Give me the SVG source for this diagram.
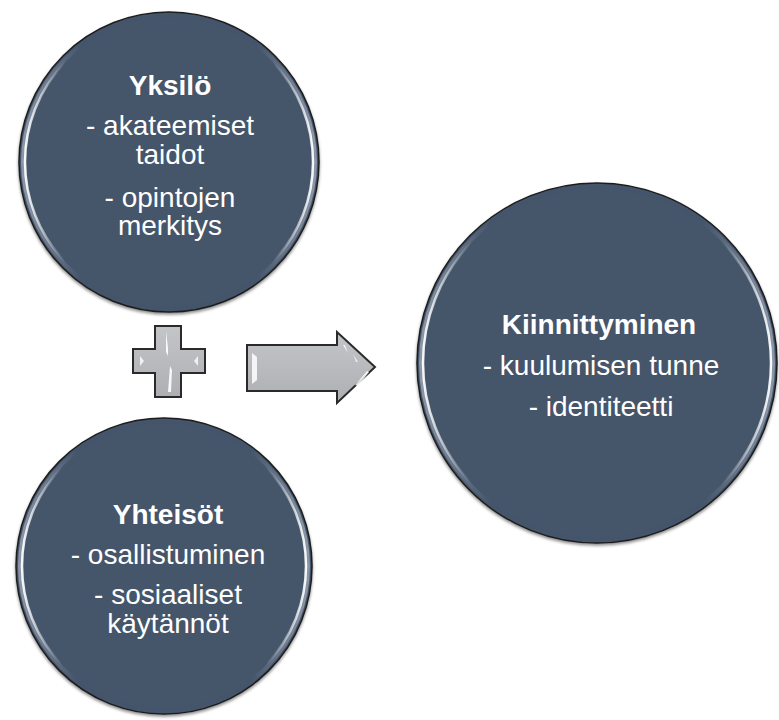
<svg xmlns="http://www.w3.org/2000/svg" width="779" height="720" viewBox="0 0 779 720">
<defs>
<linearGradient id="gleam" x1="0" y1="0" x2="1" y2="0">
<stop offset="0" stop-color="#ffffff" stop-opacity="0.95"/>
<stop offset="0.14" stop-color="#ffffff" stop-opacity="0"/>
<stop offset="0.86" stop-color="#ffffff" stop-opacity="0"/>
<stop offset="1" stop-color="#ffffff" stop-opacity="0.95"/>
</linearGradient>
<linearGradient id="rim" x1="0" y1="0" x2="1" y2="0">
<stop offset="0" stop-color="#8a96a8"/>
<stop offset="0.2" stop-color="#44546A"/>
<stop offset="0.8" stop-color="#44546A"/>
<stop offset="1" stop-color="#8a96a8"/>
</linearGradient>
<linearGradient id="grey" x1="0" y1="0" x2="0" y2="1">
<stop offset="0" stop-color="#c4c5c9"/>
<stop offset="1" stop-color="#aeafb3"/>
</linearGradient>
<filter id="sh" x="-10%" y="-10%" width="120%" height="125%">
<feDropShadow dx="0" dy="2" stdDeviation="1.5" flood-color="#000" flood-opacity="0.45"/>
</filter>
</defs>
<style>
.disc{fill:#44546A;stroke:#1e1e1e;stroke-width:1.5}
.rim{fill:none;stroke:url(#rim);stroke-width:4}
.glm{fill:none;stroke:url(#gleam);stroke-width:2.5}
.t{font-family:"Liberation Sans",Arial,sans-serif;font-size:28px;fill:#ffffff;text-anchor:middle}
.b{font-weight:bold}
.sym{fill:url(#grey);stroke:#2a2a2a;stroke-width:2;stroke-linejoin:miter}
</style>
<g id="yksilo">
<circle class="disc" cx="169" cy="162" r="150" filter="url(#sh)"/>
<circle class="rim" cx="169" cy="162" r="146"/>
<circle class="glm" cx="169" cy="162" r="144"/>
<text class="t b" x="170" y="95">Yksilö</text>
<text class="t" x="170" y="135">- akateemiset</text>
<text class="t" x="170" y="164">taidot</text>
<text class="t" x="170" y="207">- opintojen</text>
<text class="t" x="170" y="235">merkitys</text>
</g>
<g id="yhteisot">
<circle class="disc" cx="164" cy="566" r="148" filter="url(#sh)"/>
<circle class="rim" cx="164" cy="566" r="144"/>
<circle class="glm" cx="164" cy="566" r="142"/>
<text class="t b" x="168" y="524">Yhteisöt</text>
<text class="t" x="168" y="564">- osallistuminen</text>
<text class="t" x="168" y="604">- sosiaaliset</text>
<text class="t" x="168" y="633">käytännöt</text>
</g>
<g id="kiinnittyminen">
<circle class="disc" cx="597" cy="363" r="180" filter="url(#sh)"/>
<circle class="rim" cx="597" cy="363" r="176"/>
<circle class="glm" cx="597" cy="363" r="174"/>
<text class="t b" x="599" y="334">Kiinnittyminen</text>
<text class="t" x="601" y="375">- kuulumisen tunne</text>
<text class="t" x="601" y="416">- identiteetti</text>
</g>
<g id="connectors">
<g id="plus">
<path class="sym" d="M155,326 H181 V349 H205 V373 H181 V397 H155 V373 H133 V349 H155 Z"/>
<path d="M166,331 L168,348 L168,356 L166,352 Z M170,366 L168,392 L171,392 L172,370 Z" fill="#ffffff" opacity="0.9"/>
<path d="M140,356 L144,361 L140,366 Z" fill="#ffffff" opacity="0.8"/>
<path d="M198,356 L194,361 L198,366 Z" fill="#ffffff" opacity="0.8"/>
</g>
<g id="arrow">
<path class="sym" d="M247,345 H337 V332 L375,367 L337,403 V391 H247 Z"/>
<path d="M252,353 L257,357 L257,380 L252,384 Z" fill="#ffffff" opacity="0.85"/>
<path d="M343,345 L348,353 L345,345 Z" fill="#ffffff" opacity="0.8"/>
<path d="M355,385 L367,371 L369,372 L358,386 Z" fill="#ffffff" opacity="0.85"/>
<path d="M353,354 L358,362 L356,362 Z" fill="#ffffff" opacity="0.7"/>
</g>
</g>
</svg>
